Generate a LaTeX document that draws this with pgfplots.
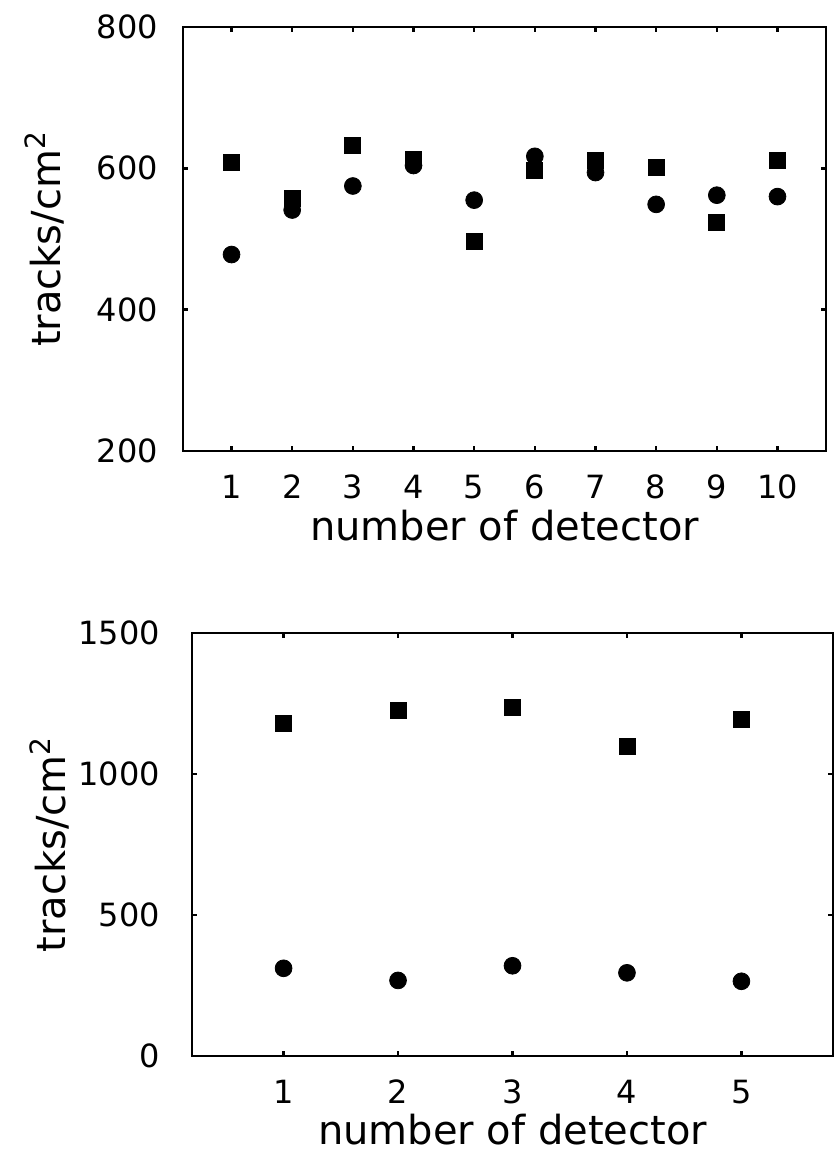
\documentclass[border=0pt]{standalone}
\usepackage{fontspec}
\setmainfont{DejaVu Sans}
\usepackage{pgfplots}
\pgfplotsset{compat=1.18}

% 1 px of the scan = 0.5pt
\pgfplotsset{
  detplot/.style={
    scale only axis,
    anchor=south west,
    axis line style={line width=1.4pt},
    tick align=inside,
    major tick length=2.5pt,
    every tick/.style={black, line width=1.2pt},
    tick label style={font=\fontsize{16}{19}\selectfont},
    /pgf/number format/assume math mode=true,
    /pgf/number format/1000 sep={},
    label style={font=\fontsize{20}{24}\selectfont},
    xlabel={number of detector},
    ylabel={tracks/cm\textsuperscript{2}},
    xticklabel style={yshift=-8.5pt},
    xlabel style={at={(axis description cs:0.5,-0.21)}, anchor=base},
  },
  sq/.style={only marks, mark=square*, mark size=4pt, black},
  ci/.style={only marks, mark=*, mark size=4.2pt, black},
}

\begin{document}
\begin{tikzpicture}
\path[use as bounding box] (0pt,0pt) rectangle (418pt,-583pt);

\begin{axis}[
    detplot,
    at={(91.5pt,-225.5pt)},
    width=321.5pt, height=212pt,
    xmin=0.2, xmax=10.8,
    ymin=200, ymax=800,
    xtick={1,...,10},
    ytick={200,400,600,800},
    yticklabel style={xshift=-9pt},
    ylabel style={at={(axis description cs:-0.191,0.5)}, anchor=base},
  ]
  \addplot[sq] coordinates {(1,608) (2,558) (3,632) (4,612) (5,496) (6,597) (7,611) (8,601) (9,524) (10,611)};
  \addplot[ci] coordinates {(1,478) (2,541) (3,575) (4,604) (5,555) (6,617) (7,594) (8,549) (9,562) (10,560)};
\end{axis}

\begin{axis}[
    detplot,
    at={(96pt,-528pt)},
    width=320.5pt, height=211.5pt,
    xmin=0.2, xmax=5.8,
    ymin=0, ymax=1500,
    xtick={1,...,5},
    ytick={0,500,1000,1500},
    yticklabel style={xshift=-12.5pt},
    ylabel style={at={(axis description cs:-0.198,0.5)}, anchor=base},
  ]
  \addplot[sq] coordinates {(1,1178) (2,1226) (3,1237) (4,1097) (5,1192)};
  \addplot[ci] coordinates {(1,311) (2,268) (3,320) (4,295) (5,265)};
\end{axis}
\end{tikzpicture}
\end{document}
